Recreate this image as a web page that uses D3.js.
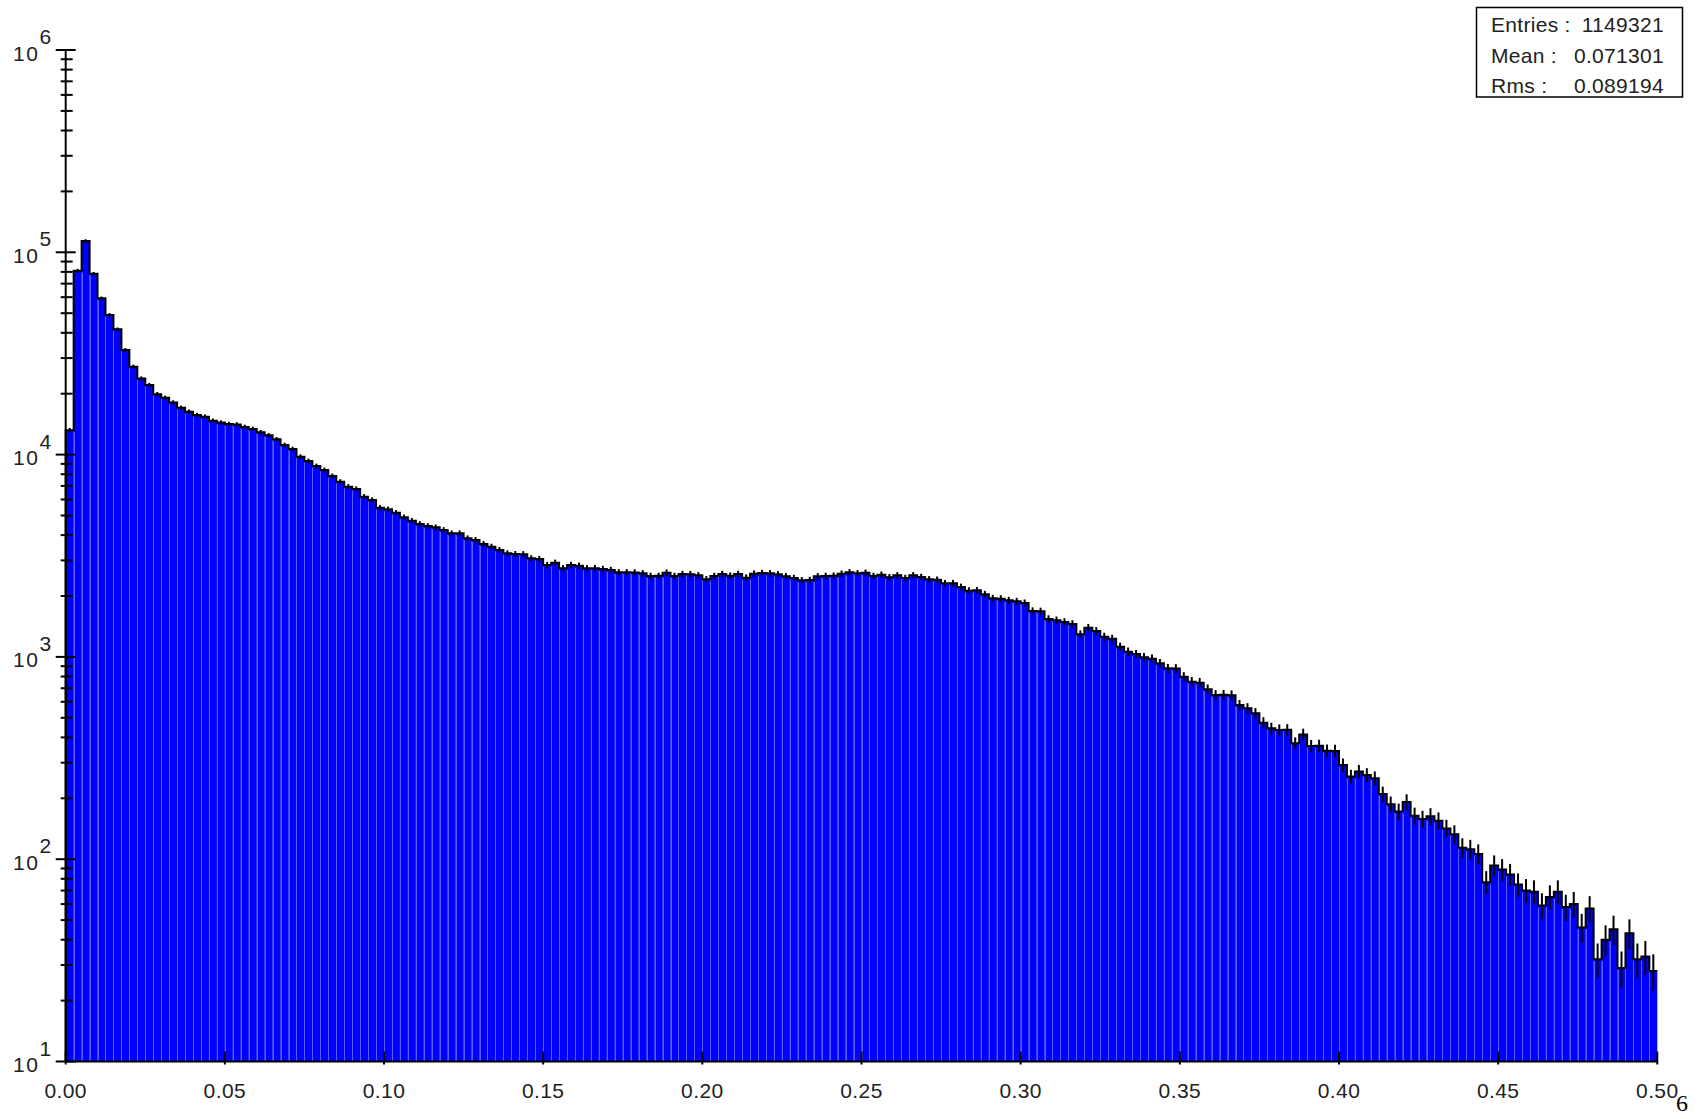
<!DOCTYPE html>
<html>
<head>
<meta charset="utf-8">
<script src="https://cdn.jsdelivr.net/npm/d3@7"></script>
<style>
  html, body { margin: 0; padding: 0; background: #ffffff; }
  svg { display: block; }
  text { font-family: "Liberation Sans", Arial, sans-serif; fill: #222; }
</style>
</head>
<body>
<svg id="chart" width="1698" height="1119"></svg>
<script>
// ---- data ----
const xMin = 0, xMax = 0.5, nBins = 200;
const counts = [
  13200, 81100, 113700, 78300, 59200, 49000, 41600, 32900, 27200, 23800,
  22100, 19900, 19100, 18100, 17050, 16300, 15700, 15400, 14700, 14400,
  14150, 14100, 13700, 13400, 12900, 12450, 11900, 11150, 10650, 9760,
  9290, 8780, 8390, 7840, 7345, 6940, 6760, 6190, 5965, 5460,
  5365, 5160, 4900, 4710, 4540, 4440, 4370, 4240, 4080, 4085,
  3856, 3782, 3614, 3505, 3375, 3251, 3226, 3220, 3072, 3048,
  2846, 2921, 2742, 2846, 2823, 2742, 2745, 2720, 2689, 2619,
  2620, 2615, 2590, 2512, 2515, 2608, 2512, 2569, 2565, 2531,
  2418, 2512, 2569, 2520, 2569, 2464, 2578, 2598, 2590, 2560,
  2502, 2455, 2391, 2399, 2502, 2512, 2520, 2578, 2619, 2590,
  2605, 2512, 2548, 2475, 2531, 2455, 2531, 2483, 2418, 2407,
  2311, 2315, 2216, 2124, 2134, 2039, 1949, 1940, 1905, 1883,
  1847, 1687, 1681, 1539, 1517, 1488, 1454, 1293, 1394, 1343,
  1258, 1230, 1123, 1061, 1033, 995, 980, 929, 878, 876,
  798, 754, 746, 692, 648, 650, 646, 578, 557, 526,
  473, 444, 435, 436, 374, 414, 363, 364, 344, 343,
  292, 256, 271, 261, 251, 210, 187, 172, 192, 164,
  158, 163, 155, 142, 133, 114, 112, 106, 77, 93,
  89, 84, 75, 70, 69, 59, 65, 69, 58, 60,
  46, 57, 32, 40, 45, 29, 43, 32, 33, 28
];
const xTickValues = [0, 0.05, 0.10, 0.15, 0.20, 0.25, 0.30, 0.35, 0.40, 0.45, 0.50];
const xTickLabels = ["0.00", "0.05", "0.10", "0.15", "0.20", "0.25", "0.30", "0.35", "0.40", "0.45", "0.50"];
const yDecades = [1, 2, 3, 4, 5, 6];
const statLabels = ["Entries :", "Mean :", "Rms :"];
const statValues = ["1149321", "0.071301", "0.089194"];

// ---- drawing ----
const svg = d3.select("#chart");
const x = d3.scaleLinear().domain([xMin, xMax]).range([65.7, 1657.3]);
const y = d3.scaleLog().domain([10, 1e6]).range([1061.5, 50]);
const bw = (xMax - xMin) / nBins;
const bins = counts.map((v, i) => ({ lo: xMin + i * bw, hi: xMin + (i + 1) * bw, v }));

// bars
svg.append("g").selectAll("rect").data(bins).join("rect")
  .attr("x", d => x(d.lo))
  .attr("width", d => x(d.hi) - x(d.lo))
  .attr("y", d => y(d.v))
  .attr("height", d => y(10) - y(d.v))
  .attr("fill", "#0000ff");

// lighter separators between bars
svg.append("g").selectAll("line").data(bins.slice(1)).join("line")
  .attr("x1", d => Math.round(x(d.lo)) + 0.5)
  .attr("x2", d => Math.round(x(d.lo)) + 0.5)
  .attr("y1", (d, i) => y(Math.min(d.v, bins[i].v)) + 2)
  .attr("y2", y(10))
  .attr("stroke", "#5c5cff")
  .attr("stroke-width", 1);

// step outline
let p = `M${x(bins[0].lo)},${y(10)}V${y(bins[0].v)}`;
bins.forEach((d, i) => {
  if (i > 0) p += `V${y(d.v)}`;
  p += `H${x(d.hi)}`;
});
svg.append("path").attr("d", p).attr("fill", "none")
  .attr("stroke", "#000").attr("stroke-width", 2);

// error bars
svg.append("g").selectAll("line").data(bins).join("line")
  .attr("x1", d => x((d.lo + d.hi) / 2))
  .attr("x2", d => x((d.lo + d.hi) / 2))
  .attr("y1", d => y(d.v + Math.sqrt(d.v)) - 1.5)
  .attr("y2", d => y(Math.max(d.v - Math.sqrt(d.v), 10)) + 1.5)
  .attr("stroke", "#000").attr("stroke-width", 2);

// y axis
const ax = svg.append("g");
ax.append("line").attr("x1", x(0)).attr("x2", x(0)).attr("y1", y(1e6)).attr("y2", y(10))
  .attr("stroke", "#000").attr("stroke-width", 2);
yDecades.forEach(e => {
  const v = Math.pow(10, e);
  ax.append("line").attr("x1", x(0) - 10).attr("x2", x(0) + 10)
    .attr("y1", y(v)).attr("y2", y(v)).attr("stroke", "#000").attr("stroke-width", 2);
  if (e < 6) {
    for (let m = 2; m <= 9; m++) {
      ax.append("line").attr("x1", x(0) - 5).attr("x2", x(0) + 7)
        .attr("y1", y(m * v)).attr("y2", y(m * v)).attr("stroke", "#000").attr("stroke-width", 2);
    }
  }
  ax.append("text").attr("x", 13).attr("y", y(v) + 10.5)
    .attr("font-size", 21).style("letter-spacing", "1.5px").text("10");
  ax.append("text").attr("x", 39.5).attr("y", y(v) - 6)
    .attr("font-size", 21).text(String(e));
});

// x axis
ax.append("line").attr("x1", x(0)).attr("x2", x(0.5)).attr("y1", y(10)).attr("y2", y(10))
  .attr("stroke", "#000").attr("stroke-width", 2);
xTickValues.forEach((v, i) => {
  ax.append("line").attr("x1", x(v)).attr("x2", x(v)).attr("y1", y(10) - 10).attr("y2", y(10) + 3)
    .attr("stroke", "#000").attr("stroke-width", 2);
  ax.append("text").attr("x", x(v)).attr("y", 1097.5).attr("text-anchor", "middle")
    .attr("font-size", 21).style("letter-spacing", "0.4px").text(xTickLabels[i]);
});

// stats box
const sb = svg.append("g");
sb.append("rect").attr("x", 1476.5).attr("y", 7.5).attr("width", 206).attr("height", 89.5)
  .attr("fill", "#fff").attr("stroke", "#000").attr("stroke-width", 1.5);
statLabels.forEach((s, i) => {
  sb.append("text").attr("x", 1491).attr("y", 32 + i * 30.5).attr("font-size", 21)
    .style("letter-spacing", "0.3px").text(s);
  sb.append("text").attr("x", 1664).attr("y", 32 + i * 30.5).attr("font-size", 21)
    .attr("text-anchor", "end").style("letter-spacing", "0.3px").text(statValues[i]);
});

// stray glyph at bottom right
svg.append("text").attr("x", 1676).attr("y", 1111).attr("font-size", 24)
  .style("font-family", "'Liberation Serif', 'Times New Roman', serif").style("fill", "#000").text("6");
</script>
</body>
</html>
